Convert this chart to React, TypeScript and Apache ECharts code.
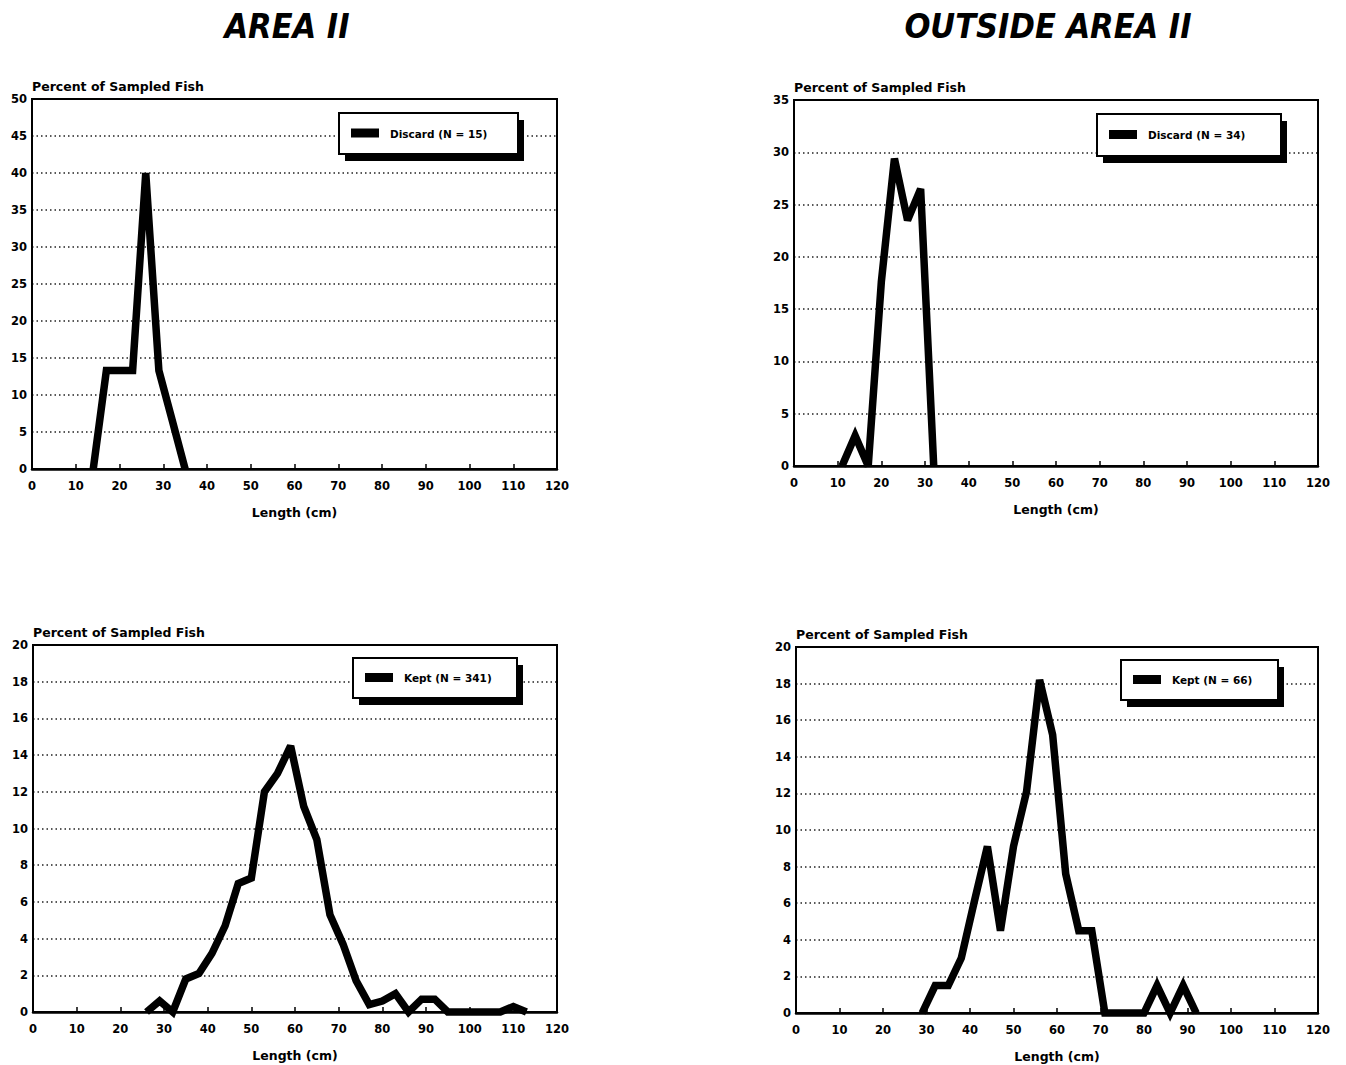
import React, { useEffect, useRef } from "react";
import * as echarts from "echarts";

// ---- Data ----
const area2DiscardLen = [14, 17, 20, 23, 26, 29, 32, 35];
const area2DiscardPct = [0, 13.3, 13.3, 13.3, 40, 13.3, 6.7, 0];

const outsideDiscardLen = [11, 14, 17, 20, 23, 26, 29, 32];
const outsideDiscardPct = [0, 2.9, 0, 17.6, 29.4, 23.5, 26.5, 0];

const area2KeptLen = [26, 29, 32, 35, 38, 41, 44, 47, 50, 53, 56, 59, 62, 65, 68, 71, 74, 77, 80, 83, 86, 89, 92, 95, 98, 101, 104, 107, 110, 113];
const area2KeptPct = [0, 0.6, 0, 1.8, 2.1, 3.2, 4.7, 7.0, 7.3, 12.0, 13.0, 14.5, 11.2, 9.4, 5.3, 3.7, 1.7, 0.4, 0.6, 1.0, 0, 0.7, 0.7, 0, 0, 0, 0, 0, 0.3, 0];

const outsideKeptLen = [29, 32, 35, 38, 41, 44, 47, 50, 53, 56, 59, 62, 65, 68, 71, 74, 77, 80, 83, 86, 89, 92];
const outsideKeptPct = [0, 1.5, 1.5, 3.0, 6.1, 9.1, 4.5, 9.1, 12.1, 18.2, 15.2, 7.6, 4.5, 4.5, 0, 0, 0, 0, 1.5, 0, 1.5, 0];

const columnTitles = ["AREA II", "OUTSIDE AREA II"];
const legendLabels = ["Discard (N = 15)", "Discard (N = 34)", "Kept (N = 341)", "Kept (N = 66)"];
const yMaxes = [50, 35, 20, 20];
const yIntervals = [5, 5, 2, 2];
const xAxisName = "Length (cm)";
const yAxisName = "Percent of Sampled Fish";

const FONT = "'DejaVu Sans', sans-serif";
const TITLE_FONT = "'DejaVu Sans Condensed', 'Liberation Sans', sans-serif";

const zip = (xs: number[], ys: number[]) => xs.map((x, i) => [x, ys[i]]);

const seriesData = [
  zip(area2DiscardLen, area2DiscardPct),
  zip(outsideDiscardLen, outsideDiscardPct),
  zip(area2KeptLen, area2KeptPct),
  zip(outsideKeptLen, outsideKeptPct),
];

const grids = [
  { left: 32, top: 99, width: 525, height: 370 },
  { left: 794, top: 100, width: 524, height: 366 },
  { left: 33, top: 645, width: 524, height: 367 },
  { left: 796, top: 647, width: 522, height: 366 },
];

const legendBoxes = [
  { x: 339, y: 113, w: 179, h: 41 },
  { x: 1097, y: 114, w: 184, h: 42 },
  { x: 353, y: 658, w: 164, h: 40 },
  { x: 1121, y: 660, w: 157, h: 40 },
];

function buildOption() {
  const graphic: any[] = [];
  graphic.push({
    type: "text", x: 287, y: 26, z: 20,
    style: { text: columnTitles[0], font: `italic bold 34px ${TITLE_FONT}`, fill: "#000", textAlign: "center", textVerticalAlign: "middle" },
  });
  graphic.push({
    type: "text", x: 1048, y: 26, z: 20,
    style: { text: columnTitles[1], font: `italic bold 34px ${TITLE_FONT}`, fill: "#000", textAlign: "center", textVerticalAlign: "middle" },
  });
  grids.forEach((g) => {
    graphic.push({ type: "rect", z: 30, shape: { x: g.left, y: g.top, width: g.width, height: g.height }, style: { fill: "none", stroke: "#000", lineWidth: 2 } });
  });
  legendBoxes.forEach((b, i) => {
    graphic.push({ type: "rect", z: 20, shape: { x: b.x + 6, y: b.y + 7, width: b.w, height: b.h }, style: { fill: "#000" } });
    graphic.push({ type: "rect", z: 21, shape: { x: b.x, y: b.y, width: b.w, height: b.h }, style: { fill: "#fff", stroke: "#000", lineWidth: 2 } });
    graphic.push({ type: "rect", z: 22, shape: { x: b.x + 12, y: b.y + b.h / 2 - 5, width: 28, height: 9 }, style: { fill: "#000" } });
    graphic.push({
      type: "text", z: 22, x: b.x + 51, y: b.y + b.h / 2,
      style: { text: legendLabels[i], font: `bold 10.5px ${FONT}`, fill: "#000", textAlign: "left", textVerticalAlign: "middle" },
    });
  });

  return {
    animation: false,
    backgroundColor: "#fff",
    grid: grids.map((g) => ({ ...g, show: false, containLabel: false })),
    xAxis: grids.map((_, i) => ({
      type: "value",
      gridIndex: i,
      min: 0,
      max: 120,
      interval: 10,
      axisLine: { show: true, onZero: false, lineStyle: { color: "#000", width: 2.5 } },
      axisTick: { show: true, inside: true, length: 5, lineStyle: { color: "#000", width: 1.5 } },
      axisLabel: { color: "#000", fontFamily: FONT, fontWeight: "bold", fontSize: 11.5, margin: 11 },
      splitLine: { show: false },
      name: xAxisName,
      nameLocation: "middle",
      nameGap: 43,
      nameTextStyle: { color: "#000", fontFamily: FONT, fontWeight: "bold", fontSize: 12.5, verticalAlign: "middle" },
    })),
    yAxis: grids.map((_, i) => ({
      type: "value",
      gridIndex: i,
      min: 0,
      max: yMaxes[i],
      interval: yIntervals[i],
      axisLine: { show: true, lineStyle: { color: "#000", width: 2 } },
      axisTick: { show: false },
      axisLabel: { color: "#000", fontFamily: FONT, fontWeight: "bold", fontSize: 11.5, margin: 5 },
      splitLine: { show: true, showMinLine: false, showMaxLine: false, lineStyle: { color: "#222", width: 1.5, type: [1.5, 3] } },
      name: yAxisName,
      nameLocation: "end",
      nameGap: 13,
      nameTextStyle: { color: "#000", fontFamily: FONT, fontWeight: "bold", fontSize: 12.5, align: "left", verticalAlign: "middle" },
    })),
    series: seriesData.map((d, i) => ({
      type: "line",
      xAxisIndex: i,
      yAxisIndex: i,
      data: d,
      symbol: "none",
      showSymbol: false,
      clip: false,
      z: 5,
      lineStyle: { color: "#000", width: 7.5, join: "miter", miterLimit: 3 },
    })),
    graphic,
  };
}

export default function App() {
  const ref = useRef<HTMLDivElement>(null);
  useEffect(() => {
    if (!ref.current) return;
    const chart = echarts.init(ref.current, undefined, { renderer: "svg" });
    chart.setOption(buildOption() as any);
    return () => chart.dispose();
  }, []);
  return (
    <div
      ref={ref}
      style={{ position: "absolute", left: 0, top: 0, width: 1346, height: 1065, background: "#fff" }}
    />
  );
}
